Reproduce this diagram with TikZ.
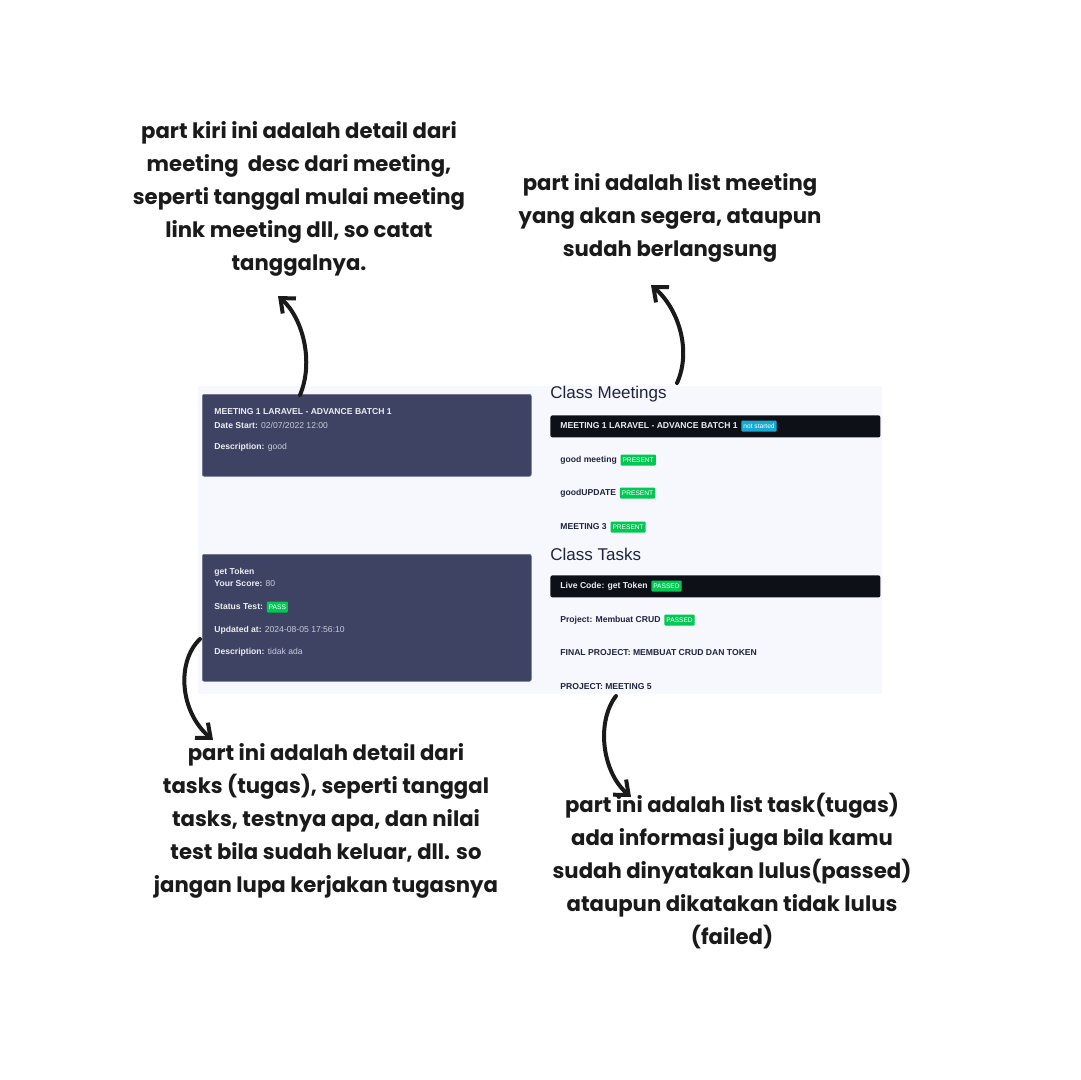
\documentclass[tikz,border=0pt]{standalone}
\usepackage{fontspec}
\setmainfont{Poppins}
\newfontfamily\ui{Liberation Sans}
\usetikzlibrary{positioning,arrows.meta}
\definecolor{cardblue}{HTML}{3E4263}
\definecolor{pagebg}{HTML}{F7F8FD}
\definecolor{barblack}{HTML}{0D1117}
\definecolor{badgegreen}{HTML}{00C853}
\definecolor{badgecyan}{HTML}{17A9D1}
\definecolor{inkblack}{HTML}{1A1A1A}
\definecolor{titleblue}{HTML}{1F2340}
\definecolor{keywhite}{HTML}{ECEDF3}
\definecolor{valgrey}{HTML}{C9CBD8}
\newcommand\cardkey[1]{\textbf{\color{keywhite}#1}}

\begin{document}
\begin{tikzpicture}[x=0.5pt, y=-0.5pt,
  note/.style={align=center, font=\bfseries\fontsize{10.6}{16.6}\selectfont, text=inkblack, inner sep=0pt},
  card/.style={fill=cardblue, draw=cardblue!75!white, line width=0.3pt, rounded corners=1pt, anchor=north west, minimum width=164.5pt},
  bar/.style={fill=barblack, rounded corners=1pt, anchor=north west, minimum width=165pt, minimum height=11pt},
  uitext/.style={anchor=west, inner sep=0pt, font=\ui\fontsize{4.3}{5}\selectfont, text=valgrey},
  itemtext/.style={anchor=west, inner sep=0pt, font=\ui\bfseries\fontsize{4.3}{5}\selectfont, text=titleblue},
  heading/.style={anchor=west, inner sep=0pt, font=\ui\fontsize{8.5}{9}\selectfont, text=titleblue},
  badge/.style={fill=badgegreen, text=white, rounded corners=0.5pt, inner xsep=1pt, inner ysep=0pt, minimum height=5.5pt, font=\ui\fontsize{3.3}{3.8}\selectfont},
  hand/.style={draw=inkblack, line width=2pt, line cap=round, -{Straight Barb[length=6pt, width=10pt, line width=2pt]}}
]
\path[use as bounding box, fill=white] (0,0) rectangle (1080,1080);
\fill[pagebg] (198,386) rectangle (882,694);

% detail cards
\node[card, minimum height=41pt] (mcard) at (202,394) {};
\node[uitext] (m1) at (214,412) {\cardkey{MEETING 1 LARAVEL - ADVANCE BATCH 1}};
\node[uitext] (m2) at (214,425) {\cardkey{Date Start:} 02/07/2022 12:00};
\node[uitext] (m3) at (214,447) {\cardkey{Description:} good};

\node[card, minimum height=63.5pt] (tcard) at (202,554) {};
\node[uitext] (t1) at (214,572) {\cardkey{get Token}};
\node[uitext] (t2) at (214,584) {\cardkey{Your Score:} 80};
\node[uitext] (t3) at (214,607) {\cardkey{Status Test:}};
\node[badge, right=1.5pt of t3] (t3b) {PASS};
\node[uitext] (t4) at (214,630) {\cardkey{Updated at:} 2024-08-05 17:56:10};
\node[uitext] (t5) at (214,652) {\cardkey{Description:} tidak ada};

% meeting list
\node[heading] (mhead) at (550,394) {Class Meetings};
\node[bar] (mbar) at (550,415) {};
\node[itemtext, text=keywhite] (ml1) at (560,426) {MEETING 1 LARAVEL - ADVANCE BATCH 1};
\node[badge, fill=badgecyan, right=1.5pt of ml1] (ml1b) {not started};
\node[itemtext] (ml2) at (560,460) {good meeting};
\node[badge, right=1.5pt of ml2] (ml2b) {PRESENT};
\node[itemtext] (ml3) at (560,493) {goodUPDATE};
\node[badge, right=1.5pt of ml3] (ml3b) {PRESENT};
\node[itemtext] (ml4) at (560,527) {MEETING 3};
\node[badge, right=1.5pt of ml4] (ml4b) {PRESENT};

% task list
\node[heading] (thead) at (550,554) {Class Tasks};
\node[bar] (tbar) at (550,575) {};
\node[itemtext, text=keywhite] (tl1) at (560,586) {Live Code: get Token};
\node[badge, right=1.5pt of tl1] (tl1b) {PASSED};
\node[itemtext] (tl2) at (560,620) {Project: Membuat CRUD};
\node[badge, right=1.5pt of tl2] (tl2b) {PASSED};
\node[itemtext] (tl3) at (560,653) {FINAL PROJECT: MEMBUAT CRUD DAN TOKEN};
\node[itemtext] (tl4) at (560,687) {PROJECT: MEETING 5};

% notes
\node[note] (ncard) at (299,199) {part kiri ini adalah detail dari\\meeting\ \ desc dari meeting,\\seperti tanggal mulai meeting\\link meeting dll, so catat\\tanggalnya.};
\node[note] (nlist) at (670,218) {part ini adalah list meeting\\yang akan segera, ataupun\\sudah berlangsung};
\node[note] (ntask) at (326,821) {part ini adalah detail dari\\tasks (tugas), seperti tanggal\\tasks, testnya apa, dan nilai\\test bila sudah keluar, dll. so\\jangan lupa kerjakan tugasnya};
\node[note] (ntlist) at (732,871) {part ini adalah list task(tugas)\\ada informasi juga bila kamu\\sudah dinyatakan lulus(passed)\\ataupun dikatakan tidak lulus\\(failed)};

% arrows
\coordinate (a1s) at (300,395);
\coordinate (a1t) at (278,296);
\coordinate (a2s) at (677,383);
\coordinate (a2t) at (651,285);
\coordinate (a3s) at (200,639);
\coordinate (a3t) at (213,740);
\coordinate (a4s) at (616,696);
\coordinate (a4t) at (631,797);
\draw[hand] (a1s) .. controls (314,362) and (303,318) .. (a1t);
\draw[hand] (a2s) .. controls (692,350) and (678,308) .. (a2t);
\draw[hand] (a3s) .. controls (176,662) and (180,712) .. (a3t);
\draw[hand] (a4s) .. controls (596,722) and (602,772) .. (a4t);
\end{tikzpicture}
\end{document}
